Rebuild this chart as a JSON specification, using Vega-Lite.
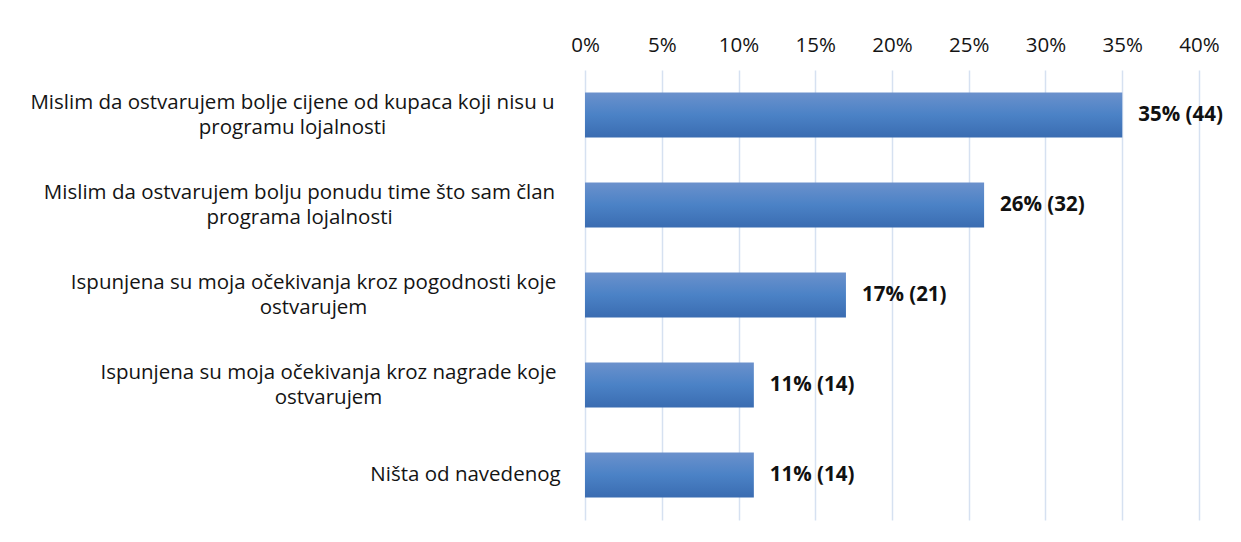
{
  "$schema": "https://vega.github.io/schema/vega-lite/v6.json",
  "width": 614,
  "height": 450,
  "autosize": {"type": "none"},
  "padding": {"left": 585, "top": 70, "right": 42, "bottom": 22},
  "background": "white",
  "config": {"view": {"stroke": null}, "font": "Open Sans"},
  "data": {
    "values": [
      {"label": "Mislim da ostvarujem bolje cijene od kupaca koji nisu u|programu lojalnosti", "share": 0.35, "text": "35% (44)"},
      {"label": "Mislim da ostvarujem bolju ponudu time što sam član|programa lojalnosti", "share": 0.26, "text": "26% (32)"},
      {"label": "Ispunjena su moja očekivanja kroz pogodnosti koje|ostvarujem", "share": 0.17, "text": "17% (21)"},
      {"label": "Ispunjena su moja očekivanja kroz nagrade koje|ostvarujem", "share": 0.11, "text": "11% (14)"},
      {"label": "Ništa od navedenog", "share": 0.11, "text": "11% (14)"}
    ]
  },
  "encoding": {
    "y": {
      "field": "label",
      "type": "nominal",
      "sort": null,
      "scale": {"paddingInner": 0.5, "paddingOuter": 0.25},
      "axis": {
        "title": null,
        "domain": false,
        "ticks": false,
        "grid": false,
        "labelExpr": "split(datum.label, '|')",
        "labelFont": "Open Sans",
        "labelFontSize": 20.5,
        "labelColor": "#141414",
        "labelLineHeight": 25,
        "labelLimit": 0,
        "labelAlign": "center",
        "labelBaseline": "middle",
        "labelOffset": {
          "condition": {"test": "indexof(datum.value, '|') >= 0", "value": -12},
          "value": 0
        },
        "labelPadding": {
          "condition": [
            {"test": "indexof(datum.value, 'cijene') >= 0", "value": 293},
            {"test": "indexof(datum.value, 'ponudu') >= 0", "value": 286},
            {"test": "indexof(datum.value, 'pogodnosti') >= 0", "value": 272},
            {"test": "indexof(datum.value, 'nagrade') >= 0", "value": 257}
          ],
          "value": 120
        }
      }
    },
    "x": {
      "field": "share",
      "type": "quantitative",
      "scale": {"domain": [0, 0.4]},
      "axis": {
        "orient": "top",
        "title": null,
        "format": ".0%",
        "values": [0, 0.05, 0.1, 0.15, 0.2, 0.25, 0.3, 0.35, 0.4],
        "domain": false,
        "ticks": false,
        "grid": true,
        "gridColor": "#d6e1f1",
        "gridWidth": 1.5,
        "labelFlush": false,
        "labelOverlap": false,
        "labelFont": "Open Sans",
        "labelFontSize": 20.5,
        "labelColor": "#141414",
        "labelPadding": 15
      }
    }
  },
  "layer": [
    {
      "mark": {
        "type": "bar",
        "color": {
          "gradient": "linear",
          "x1": 0, "y1": 0, "x2": 0, "y2": 1,
          "stops": [
            {"offset": 0, "color": "#6b91cc"},
            {"offset": 0.5, "color": "#4b82c6"},
            {"offset": 1, "color": "#3a6cb1"}
          ]
        }
      }
    },
    {
      "mark": {"type": "text", "align": "left", "baseline": "middle", "dx": 16, "fontWeight": "bold", "fontSize": 20.5, "font": "Open Sans", "color": "#111"},
      "encoding": {"text": {"field": "text"}}
    }
  ]
}
